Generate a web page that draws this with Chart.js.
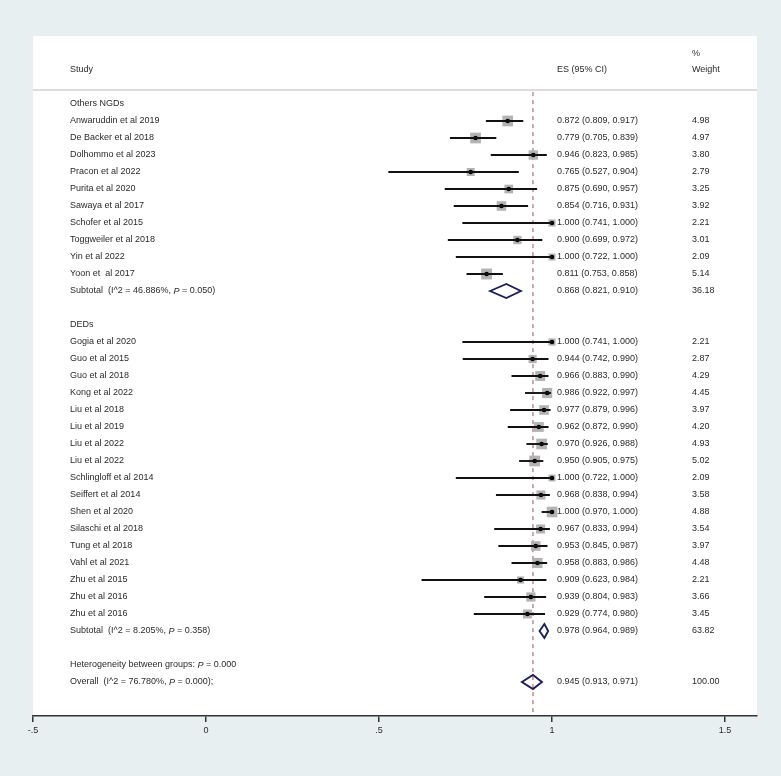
<!DOCTYPE html>
<html><head><meta charset="utf-8">
<script src="https://cdn.jsdelivr.net/npm/chart.js@4.4.1/dist/chart.umd.min.js"></script>
<style>html,body{margin:0;padding:0;background:#e8eff1;}#wrap{width:781px;height:776px;position:relative;}</style>
</head><body><div id="wrap"><canvas id="c"></canvas></div>
<script>
// ---- data ----
const ngdStudies = ["Anwaruddin et al 2019","De Backer et al 2018","Dolhommo et al 2023","Pracon et al 2022","Purita et al 2020","Sawaya et al 2017","Schofer et al 2015","Toggweiler et al 2018","Yin et al 2022","Yoon et  al 2017"];
const ngdES     = [0.872,0.779,0.946,0.765,0.875,0.854,1.000,0.900,1.000,0.811];
const ngdLow    = [0.809,0.705,0.823,0.527,0.690,0.716,0.741,0.699,0.722,0.753];
const ngdHigh   = [0.917,0.839,0.985,0.904,0.957,0.931,1.000,0.972,1.000,0.858];
const ngdWeight = [4.98,4.97,3.80,2.79,3.25,3.92,2.21,3.01,2.09,5.14];
const ngdSubtotal = {es:0.868, low:0.821, high:0.910, weight:36.18, i2:"46.886%", p:"0.050"};

const dedStudies = ["Gogia et al 2020","Guo et al 2015","Guo et al 2018","Kong et al 2022","Liu et al 2018","Liu et al 2019","Liu et al 2022","Liu et al 2022","Schlingloff et al 2014","Seiffert et al 2014","Shen et al 2020","Silaschi et al 2018","Tung et al 2018","Vahl et al 2021","Zhu et al 2015","Zhu et al 2016","Zhu et al 2016"];
const dedES     = [1.000,0.944,0.966,0.986,0.977,0.962,0.970,0.950,1.000,0.968,1.000,0.967,0.953,0.958,0.909,0.939,0.929];
const dedLow    = [0.741,0.742,0.883,0.922,0.879,0.872,0.926,0.905,0.722,0.838,0.970,0.833,0.845,0.883,0.623,0.804,0.774];
const dedHigh   = [1.000,0.990,0.990,0.997,0.996,0.990,0.988,0.975,1.000,0.994,1.000,0.994,0.987,0.986,0.984,0.983,0.980];
const dedWeight = [2.21,2.87,4.29,4.45,3.97,4.20,4.93,5.02,2.09,3.58,4.88,3.54,3.97,4.48,2.21,3.66,3.45];
const dedSubtotal = {es:0.978, low:0.964, high:0.989, weight:63.82, i2:"8.205%", p:"0.358"};

const groupNames = ["Others NGDs","DEDs"];
const overall = {es:0.945, low:0.913, high:0.971, weight:100.00, i2:"76.780%", p:"0.000", hetP:"0.000"};
const tickValues = [-0.5, 0, 0.5, 1, 1.5];
const tickLabels = ["-.5","0",".5","1","1.5"];

// ---- build rows ----
const rows = [];
let r = 0;
const groups = [
  {name:groupNames[0], studies:ngdStudies, es:ngdES, low:ngdLow, high:ngdHigh, w:ngdWeight, sub:ngdSubtotal},
  {name:groupNames[1], studies:dedStudies, es:dedES, low:dedLow, high:dedHigh, w:dedWeight, sub:dedSubtotal}
];
groups.forEach(g => {
  rows.push({type:'group', label:g.name, row:r++});
  g.studies.forEach((s,i) => rows.push({type:'study', label:s, es:g.es[i], low:g.low[i], high:g.high[i], weight:g.w[i], row:r++}));
  rows.push({type:'subtotal', es:g.sub.es, low:g.sub.low, high:g.sub.high, weight:g.sub.weight, i2:g.sub.i2, p:g.sub.p, row:r++});
  r++; // blank row
});
rows.push({type:'het', row:r++});
rows.push({type:'overall', es:overall.es, low:overall.low, high:overall.high, weight:overall.weight, i2:overall.i2, p:overall.p, row:r++});

const studyRows = rows.filter(o => o.type === 'study');
const squarePts = studyRows.map(o => ({x:o.es, y:o.row, w:o.weight}));
const dotPts = studyRows.map(o => ({x:o.es, y:o.row}));

const FONT = "'Liberation Sans', Arial, sans-serif";
const TXT = '#2a2a2a';
const COL_STUDY = 70, COL_ES = 557, COL_W = 692;

function drawParts(ctx, parts, x, y) {
  let cx = x;
  parts.forEach(p => {
    ctx.font = (p.i ? 'italic ' : '') + '9px ' + FONT;
    ctx.fillText(p.t, cx, y);
    cx += ctx.measureText(p.t).width;
  });
}

const forestPlugin = {
  id: 'forest',
  beforeDraw(chart) {
    const {ctx, chartArea:a} = chart;
    ctx.save();
    ctx.fillStyle = '#ffffff';
    ctx.fillRect(a.left, a.top, a.right - a.left, a.bottom - a.top);
    ctx.restore();
  },
  beforeDatasetsDraw(chart) {
    const {ctx, chartArea:a, scales:{x, y}} = chart;
    ctx.save();
    ctx.strokeStyle = '#dcdcdc';
    ctx.lineWidth = 2;
    const yd = y.getPixelForValue(-0.82);
    ctx.beginPath(); ctx.moveTo(a.left, yd); ctx.lineTo(a.right, yd); ctx.stroke();
    ctx.strokeStyle = '#a97373';
    ctx.lineWidth = 1.2;
    ctx.setLineDash([4,4]);
    const xo = x.getPixelForValue(overall.es);
    ctx.beginPath(); ctx.moveTo(xo, y.getPixelForValue(-0.7)); ctx.lineTo(xo, a.bottom); ctx.stroke();
    ctx.setLineDash([]);
    ctx.restore();
  },
  afterDatasetsDraw(chart) {
    const {ctx, scales:{x, y}} = chart;
    ctx.save();
    ctx.strokeStyle = '#111111';
    ctx.lineWidth = 1.9;
    studyRows.forEach(o => {
      const py = y.getPixelForValue(o.row);
      ctx.beginPath();
      ctx.moveTo(x.getPixelForValue(o.low), py);
      ctx.lineTo(x.getPixelForValue(o.high), py);
      ctx.stroke();
    });
    ctx.strokeStyle = '#1d1d5e';
    ctx.lineWidth = 1.9;
    rows.filter(o => o.type === 'subtotal' || o.type === 'overall').forEach(o => {
      const py = y.getPixelForValue(o.row);
      const h = 7;
      ctx.beginPath();
      ctx.moveTo(x.getPixelForValue(o.low), py);
      ctx.lineTo(x.getPixelForValue(o.es), py - h);
      ctx.lineTo(x.getPixelForValue(o.high), py);
      ctx.lineTo(x.getPixelForValue(o.es), py + h);
      ctx.closePath();
      ctx.stroke();
    });
    ctx.fillStyle = TXT;
    ctx.textBaseline = 'middle';
    ctx.textAlign = 'left';
    drawParts(ctx, [{t:'Study'}], COL_STUDY, y.getPixelForValue(-2));
    drawParts(ctx, [{t:'ES (95% CI)'}], COL_ES, y.getPixelForValue(-2));
    drawParts(ctx, [{t:'%'}], COL_W, y.getPixelForValue(-2.95));
    drawParts(ctx, [{t:'Weight'}], COL_W, y.getPixelForValue(-2));
    rows.forEach(o => {
      const py = y.getPixelForValue(o.row);
      if (o.type === 'group' || o.type === 'study') drawParts(ctx, [{t:o.label}], COL_STUDY, py);
      if (o.type === 'subtotal') drawParts(ctx, [{t:'Subtotal  (I^2 = ' + o.i2 + ', '}, {t:'P', i:true}, {t:' = ' + o.p + ')'}], COL_STUDY, py);
      if (o.type === 'het') drawParts(ctx, [{t:'Heterogeneity between groups: '}, {t:'P', i:true}, {t:' = ' + overall.hetP}], COL_STUDY, py);
      if (o.type === 'overall') drawParts(ctx, [{t:'Overall  (I^2 = ' + o.i2 + ', '}, {t:'P', i:true}, {t:' = ' + o.p + ');'}], COL_STUDY, py);
      if (o.es !== undefined) {
        drawParts(ctx, [{t:o.es.toFixed(3) + ' (' + o.low.toFixed(3) + ', ' + o.high.toFixed(3) + ')'}], COL_ES, py);
        drawParts(ctx, [{t:o.weight.toFixed(2)}], COL_W, py);
      }
    });
    ctx.restore();
  }
};

new Chart(document.getElementById('c'), {
  type: 'scatter',
  data: {
    datasets: [
      {label:'weight boxes', data:squarePts, pointStyle:'rect', backgroundColor:'#b3b3b3', borderWidth:0,
       pointRadius: c => 3.4 * Math.sqrt(c.raw ? c.raw.w : 1), order: 2},
      {label:'estimates', data:dotPts, pointStyle:'circle', backgroundColor:'#000000', borderWidth:0, pointRadius:2.3, order: 1}
    ]
  },
  options: {
    responsive: true, maintainAspectRatio: false, animation: false, devicePixelRatio: 1,
    layout: {padding: {left:33, right:24, top:36, bottom:0}},
    plugins: {legend:{display:false}, tooltip:{enabled:false}},
    scales: {
      x: {
        type:'linear', min:-0.5, max:1.5925,
        afterBuildTicks: s => { s.ticks = tickValues.map(v => ({value:v})); },
        afterFit: s => { s.height = 60; },
        ticks: {autoSkip:false, maxRotation:0, padding:3, color:TXT, font:{family:FONT, size:9},
                callback: (v) => { const i = tickValues.indexOf(v); return i >= 0 ? tickLabels[i] : ''; }},
        grid: {drawOnChartArea:false, drawTicks:true, tickLength:6, color:'#333333', lineWidth:1.5},
        border: {display:true, color:'#333333', width:1.5}
      },
      y: {type:'linear', reverse:true, min:-4, max:36, display:false}
    }
  },
  plugins: [forestPlugin]
});
</script></body></html>
